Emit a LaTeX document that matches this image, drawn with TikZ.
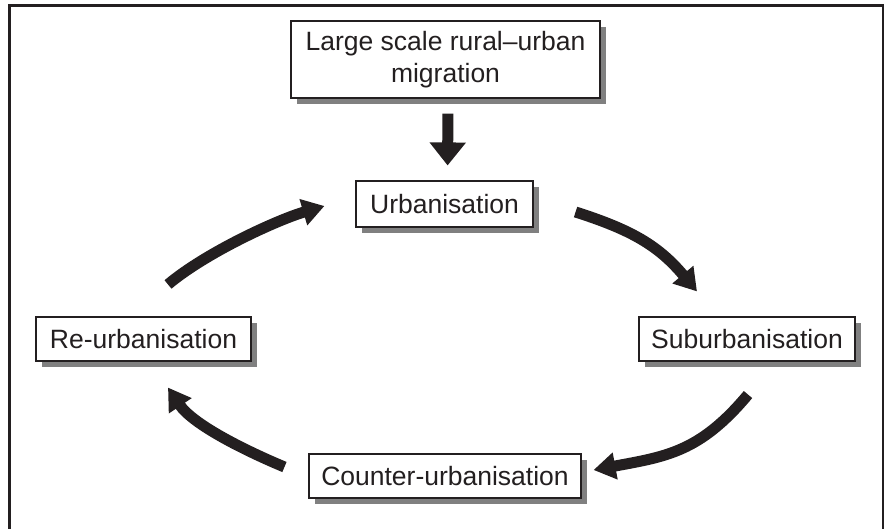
\documentclass[tikz,border=0pt]{standalone}
\usepackage{fontspec}
\setmainfont{Liberation Sans}
\usetikzlibrary{arrows.meta,shadows,calc}
\definecolor{ink}{HTML}{231F20}
\definecolor{shade}{HTML}{808080}
\begin{document}
\begin{tikzpicture}[x=1pt,y=-1pt,
  box/.style={draw=ink,line width=1.1pt,fill=white,text=ink,
    font=\fontsize{26.5}{32}\selectfont,inner sep=0pt,minimum height=44pt,
    align=center,drop shadow={fill=shade,opacity=1,shadow xshift=6pt,shadow yshift=-6pt}},
  bigarrow/.style={draw=ink,line width=11pt,-{Triangle[width=26pt,length=22pt]}},
  downarrow/.style={draw=ink,line width=11pt,-{Triangle[width=35pt,length=23pt]}},
  frame/.style={draw=ink}]
\useasboundingbox (0,0) rectangle (885,529);
% frame
\draw[frame,line width=3pt] (9.5,529) -- (9.5,5.5);
\draw[frame,line width=3pt] (8,5.5) -- (884,5.5);
\draw[frame,line width=1.6pt] (883,4) -- (883,529);
% boxes
\node[box,minimum width=309pt,minimum height=77pt] (top) at (445.5,59.5) {Large scale rural–urban\\migration};
\node[box,minimum width=177pt,minimum height=46pt] (urb) at (444.5,204) {Urbanisation};
\node[box,minimum width=215pt] (reurb) at (143.5,339) {Re-urbanisation};
\node[box,minimum width=216pt] (suburb) at (747,339) {Suburbanisation};
\node[box,minimum width=272pt] (counter) at (445,476) {Counter-urbanisation};
% arrows
\draw[downarrow,shorten <=15pt,shorten >=15pt] ([xshift=2.5pt]top.south) -- ([xshift=3pt]urb.north);
\draw[bigarrow] ($(reurb.north)+(24.5,-32)$) .. controls (206,252.5) and (277,220) .. ($(urb.west)+(-31,2)$);
\draw[bigarrow] ($(urb.east)+(42,8)$) .. controls (632,230) and (658.6,245.8) .. ($(suburb.north)+(-50,-25)$);
\draw[bigarrow] ($(suburb.south)+(1,33)$) .. controls (700,452) and (666.5,456.5) .. ($(counter.east)+(12,-6)$);
\draw[bigarrow] ($(counter.west)+(-24,-9)$) .. controls (243.6,449.9) and (192.75,424.35) .. ($(reurb.south)+(24.5,26)$);
\end{tikzpicture}
\end{document}
